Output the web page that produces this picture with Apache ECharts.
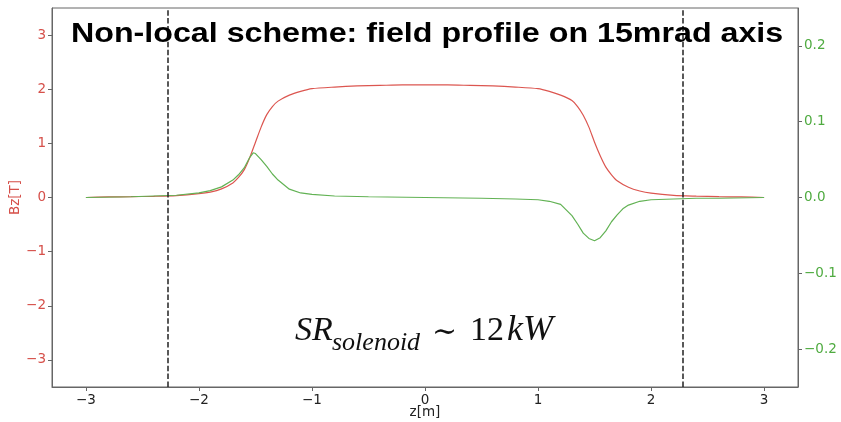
<!DOCTYPE html>
<html>
<head>
<meta charset="utf-8">
<script src="https://cdn.jsdelivr.net/npm/echarts@6/dist/echarts.min.js"></script>
<style>html,body{margin:0;padding:0;background:#fff}#c{width:841px;height:422px}</style>
</head>
<body>
<div id="c"></div>
<script>
// z positions [m] and Bz [T] (red, left axis)
var zBz = [-3.0,-2.8,-2.6,-2.4,-2.2,-2.0,-1.9,-1.8,-1.7,-1.65,-1.6,-1.55,-1.5,-1.45,-1.4,-1.35,-1.3,-1.2,-1.1,-1.0,-0.8,-0.6,-0.4,-0.2,0,0.2,0.4,0.6,0.8,1.0,1.1,1.2,1.3,1.35,1.4,1.45,1.5,1.55,1.6,1.65,1.7,1.8,1.9,2.0,2.2,2.4,2.6,2.8,3.0];
var bzValues = [0.00,0.01,0.015,0.022,0.035,0.07,0.10,0.16,0.27,0.37,0.51,0.74,1.02,1.30,1.53,1.68,1.78,1.89,1.96,2.01,2.04,2.06,2.07,2.08,2.08,2.08,2.07,2.06,2.04,2.01,1.96,1.89,1.79,1.68,1.52,1.30,1.02,0.77,0.56,0.42,0.31,0.19,0.12,0.08,0.04,0.025,0.015,0.01,0.00];
// z positions [m] and green field component (right axis)
var zBr = [-3.0,-2.6,-2.4,-2.2,-2.0,-1.9,-1.8,-1.7,-1.65,-1.6,-1.55,-1.52,-1.5,-1.45,-1.4,-1.35,-1.3,-1.2,-1.1,-1.0,-0.8,-0.5,0,0.5,0.8,1.0,1.1,1.2,1.3,1.35,1.4,1.45,1.5,1.55,1.6,1.65,1.7,1.75,1.8,1.9,2.0,2.2,2.4,2.6,3.0];
var brValues = [0.0,0.001,0.002,0.003,0.006,0.009,0.014,0.023,0.030,0.039,0.053,0.059,0.058,0.050,0.041,0.031,0.023,0.011,0.006,0.004,0.002,0.001,0.0,-0.001,-0.002,-0.003,-0.005,-0.009,-0.024,-0.035,-0.047,-0.054,-0.057,-0.053,-0.044,-0.032,-0.023,-0.015,-0.010,-0.005,-0.003,-0.002,-0.001,-0.001,0.0];
// dashed vertical markers
var dashZ = [-2.28, 2.28];
// tick labels
var xTicks = [-3,-2,-1,0,1,2,3];
var yLeftTicks = [-3,-2,-1,0,1,2,3];
var yRightTicks = [-0.2,-0.1,0,0.1,0.2];

var RED_LINE = '#dc5650', GREEN_LINE = '#62b254';
var RED_TXT = '#d6504a', GREEN_TXT = '#4fab40', AX = '#666';
function minus(s){ return String(s).replace('-', '\u2212'); }
function pairs(xs, ys){ return xs.map(function(x,i){ return [x, ys[i]]; }); }

var chart = echarts.init(document.getElementById('c'), null, {renderer:'canvas'});
chart.setOption({
  animation: false,
  backgroundColor: '#fff',
  grid: { left: 52, right: 43, top: 8, bottom: 35, show: true, borderColor: AX, borderWidth: 1,
          containLabel: false, outerBoundsMode: 'none' },
  xAxis: {
    type: 'value', min: -3.3, max: 3.3,
    name: 'z[m]', nameLocation: 'middle', nameGap: 18, nameMoveOverlap: false,
    nameTextStyle: { color: '#222', fontSize: 13.5, fontFamily: 'DejaVu Sans' },
    axisLine: { show: true, onZero: false, lineStyle: { color: AX } },
    axisTick: { show: true, length: 4, lineStyle: { color: AX }, customValues: xTicks },
    axisLabel: { color: '#222', fontSize: 13.5, fontFamily: 'DejaVu Sans', margin: 6, customValues: xTicks,
      formatter: function(v){ return minus(v); } },
    splitLine: { show: false }
  },
  yAxis: [{
    type: 'value', min: -3.5, max: 3.5, position: 'left',
    name: 'Bz[T]', nameLocation: 'middle', nameGap: 30, nameMoveOverlap: false,
    nameTextStyle: { color: RED_TXT, fontSize: 13.5, fontFamily: 'DejaVu Sans' },
    axisLine: { show: true, onZero: false, lineStyle: { color: AX } },
    axisTick: { show: true, length: 4, lineStyle: { color: AX }, customValues: yLeftTicks },
    axisLabel: { color: RED_TXT, fontSize: 13.5, fontFamily: 'DejaVu Sans', margin: 6, customValues: yLeftTicks,
      formatter: function(v){ return minus(v); } },
    splitLine: { show: false }
  },{
    type: 'value', min: -0.25, max: 0.25, position: 'right',
    axisLine: { show: true, onZero: false, lineStyle: { color: AX } },
    axisTick: { show: true, length: 4, lineStyle: { color: AX }, customValues: yRightTicks },
    axisLabel: { color: GREEN_TXT, fontSize: 13.5, fontFamily: 'DejaVu Sans', margin: 6, customValues: yRightTicks,
      formatter: function(v){ return (v < -1e-9 ? '\u2212' : '') + Math.abs(v).toFixed(1); } },
    splitLine: { show: false }
  }],
  series: [{
    type: 'line', yAxisIndex: 0, data: pairs(zBz, bzValues), showSymbol: false, smooth: 0.25,
    lineStyle: { color: RED_LINE, width: 1.2 }, itemStyle: { color: RED_LINE },
    markLine: {
      silent: true, symbol: 'none', label: { show: false },
      lineStyle: { color: '#222', type: [5.5, 2.4], width: 1.5 },
      data: dashZ.map(function(z){ return { xAxis: z }; })
    }
  },{
    type: 'line', yAxisIndex: 1, data: pairs(zBr, brValues), showSymbol: false, smooth: false,
    lineStyle: { color: GREEN_LINE, width: 1.2 }, itemStyle: { color: GREEN_LINE }
  }],
  graphic: [
    { type: 'text', x: 71, y: 34.5, scaleX: 1.15, z: 100,
      style: { text: 'Non-local scheme: field profile on 15mrad axis', fill: '#000',
        font: 'bold 28px "Liberation Sans", Arial, sans-serif', verticalAlign: 'middle', align: 'left' } },
    { type: 'text', x: 295, y: 331, z: 100,
      style: { text: 'SR', fill: '#111', font: 'italic 34px "Liberation Serif", "Times New Roman", serif', verticalAlign: 'middle' } },
    { type: 'text', x: 332, y: 343, z: 100,
      style: { text: 'solenoid', fill: '#111', font: 'italic 26px "Liberation Serif", "Times New Roman", serif', verticalAlign: 'middle' } },
    { type: 'text', x: 432, y: 333, z: 100,
      style: { text: '\u223C', fill: '#111', font: '30px "DejaVu Serif", serif', verticalAlign: 'middle' } },
    { type: 'text', x: 470, y: 331, z: 100,
      style: { text: '12', fill: '#111', font: '34px "Liberation Serif", "Times New Roman", serif', verticalAlign: 'middle' } },
    { type: 'text', x: 507, y: 331, z: 100,
      style: { text: 'kW', fill: '#111', font: 'italic 36px "Liberation Serif", "Times New Roman", serif', verticalAlign: 'middle' } }
  ]
});
</script>
</body>
</html>
